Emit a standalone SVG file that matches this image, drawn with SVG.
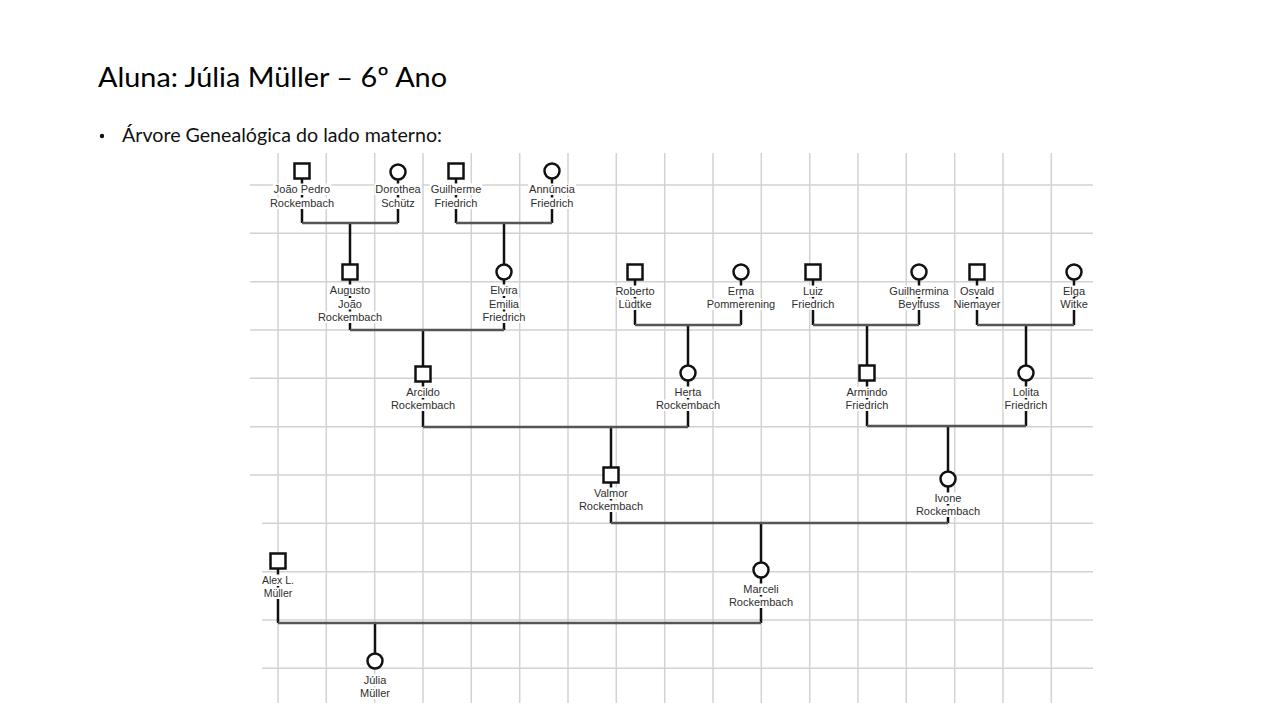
<svg xmlns="http://www.w3.org/2000/svg" width="1280" height="720" viewBox="0 0 1280 720">
<defs>
<style>
.grid line{stroke:#d2d2d2;stroke-width:1.5}
.v{stroke:#111;stroke-width:2.5;fill:none}
.h{stroke:#555;stroke-width:2.5;fill:none}
.sq,.ci{fill:#fff;stroke:#111;stroke-width:2.5}
.bg{fill:#fff;height:11.5px}
.lb{font-family:"Liberation Sans",Arial,sans-serif;font-size:11px;fill:#2e2e2e;text-anchor:middle}
.sm{font-size:10.5px}
.title{font-family:Lato,"Open Sans",sans-serif;font-size:27px;fill:#000}
.sub{font-family:Lato,"Open Sans",sans-serif;font-size:18.5px;fill:#111}
</style>
</defs>
<rect width="1280" height="720" fill="#fff"/>
<text class="title" x="98" y="87" textLength="349" lengthAdjust="spacingAndGlyphs">Aluna: Júlia Müller – 6º Ano</text>
<circle cx="102" cy="136" r="2.2" fill="#111"/>
<text class="sub" x="122" y="142" textLength="320" lengthAdjust="spacingAndGlyphs">Árvore Genealógica do lado materno:</text>
<g class="grid">
<line x1="278" y1="153" x2="278" y2="703"/><line x1="326.3" y1="153" x2="326.3" y2="703"/><line x1="374.7" y1="153" x2="374.7" y2="703"/><line x1="423" y1="153" x2="423" y2="703"/><line x1="471.3" y1="153" x2="471.3" y2="703"/><line x1="519.7" y1="153" x2="519.7" y2="703"/><line x1="568" y1="153" x2="568" y2="703"/><line x1="616.3" y1="153" x2="616.3" y2="703"/><line x1="664.7" y1="153" x2="664.7" y2="703"/><line x1="713" y1="153" x2="713" y2="703"/><line x1="761.3" y1="153" x2="761.3" y2="703"/><line x1="809.7" y1="153" x2="809.7" y2="703"/><line x1="858" y1="153" x2="858" y2="703"/><line x1="906.3" y1="153" x2="906.3" y2="703"/><line x1="954.7" y1="153" x2="954.7" y2="703"/><line x1="1003" y1="153" x2="1003" y2="703"/><line x1="1051.3" y1="153" x2="1051.3" y2="703"/>
<line x1="250" y1="185" x2="1093" y2="185"/><line x1="250" y1="233.3" x2="1093" y2="233.3"/><line x1="250" y1="281.7" x2="1093" y2="281.7"/><line x1="250" y1="330" x2="1093" y2="330"/><line x1="250" y1="378.3" x2="1093" y2="378.3"/><line x1="250" y1="426.7" x2="1093" y2="426.7"/><line x1="250" y1="475" x2="1093" y2="475"/><line x1="262" y1="523.3" x2="1093" y2="523.3"/><line x1="262" y1="571.7" x2="1093" y2="571.7"/><line x1="262" y1="620" x2="1093" y2="620"/><line x1="262" y1="668.3" x2="1093" y2="668.3"/>
</g>
<g id="connectors">
<path class="v" d="M302 179V223M398 180V223M456 179V223M552 179V223M350 223V264.5M504 223V264.5"/>
<path class="h" d="M302 223H398M456 223H552"/>
<path class="v" d="M350 280V330M504 280V330M423 330V366.5"/>
<path class="h" d="M350 330H504"/>
<path class="v" d="M635 280V325M741 280V325M688 325V365.5M813 280V325M919 280V325M867 325V365.5M977 280V325M1074 280V325M1026 325V365.5"/>
<path class="h" d="M635 325H741M813 325H919M977 325H1074"/>
<path class="v" d="M423 382V427M688 381V427M611 427V467.5M867 381V426M1026 381V426M948 426V471.5"/>
<path class="h" d="M423 427H688M867 426H1026"/>
<path class="v" d="M611 483V523M948 487V523M761 523V562.5"/>
<path class="h" d="M611 523H948"/>
<path class="v" d="M278 569V623M761 578V623M375 623V653.5"/>
<path class="h" d="M278 623H761"/>
</g>
<g id="joao-pedro"><rect class="sq" x="294.5" y="163.5" width="15" height="15"/><rect class="bg" x="272.9" y="183.5" width="58.3" height="11.5"/><rect class="bg" x="268.9" y="197.5" width="66.2" height="11.5"/><text class="lb" x="302" y="193">João Pedro</text><text class="lb" x="302" y="207">Rockembach</text></g>
<g id="dorothea"><circle class="ci" cx="398" cy="172" r="7.5"/><rect class="bg" x="374.4" y="183.5" width="47.2" height="11.5"/><rect class="bg" x="380.2" y="197.5" width="35.6" height="11.5"/><text class="lb" x="398" y="193">Dorothea</text><text class="lb" x="398" y="207">Schütz</text></g>
<g id="guilherme"><rect class="sq" x="448.5" y="163.5" width="15" height="15"/><rect class="bg" x="429.7" y="183.5" width="52.7" height="11.5"/><rect class="bg" x="433.6" y="197.5" width="44.8" height="11.5"/><text class="lb" x="456" y="193">Guilherme</text><text class="lb" x="456" y="207">Friedrich</text></g>
<g id="annuncia"><circle class="ci" cx="552" cy="171" r="7.5"/><rect class="bg" x="528.1" y="183.5" width="47.9" height="11.5"/><rect class="bg" x="529.6" y="197.5" width="44.8" height="11.5"/><text class="lb" x="552" y="193">Annúncia</text><text class="lb" x="552" y="207">Friedrich</text></g>
<g id="augusto"><rect class="sq" x="342.5" y="264.5" width="15" height="15"/><rect class="bg" x="328.8" y="284.5" width="42.4" height="11.5"/><rect class="bg" x="337.1" y="298" width="25.8" height="11.5"/><rect class="bg" x="316.9" y="311.5" width="66.2" height="11.5"/><text class="lb" x="350" y="294">Augusto</text><text class="lb" x="350" y="307.5">João</text><text class="lb" x="350" y="321">Rockembach</text></g>
<g id="elvira"><circle class="ci" cx="504" cy="272" r="7.5"/><rect class="bg" x="489.3" y="284.5" width="29.5" height="11.5"/><rect class="bg" x="488.1" y="298" width="31.9" height="11.5"/><rect class="bg" x="481.6" y="311.5" width="44.8" height="11.5"/><text class="lb" x="504" y="294">Elvira</text><text class="lb" x="504" y="307.5">Emilia</text><text class="lb" x="504" y="321">Friedrich</text></g>
<g id="roberto"><rect class="sq" x="627.5" y="264.5" width="15" height="15"/><rect class="bg" x="614.5" y="285.5" width="41.1" height="11.5"/><rect class="bg" x="617.5" y="298.5" width="35" height="11.5"/><text class="lb" x="635" y="295">Roberto</text><text class="lb" x="635" y="308">Lüdtke</text></g>
<g id="erma"><circle class="ci" cx="741" cy="272" r="7.5"/><rect class="bg" x="726.9" y="285.5" width="28.3" height="11.5"/><rect class="bg" x="705.8" y="298.5" width="70.5" height="11.5"/><text class="lb" x="741" y="295">Erma</text><text class="lb" x="741" y="308">Pommerening</text></g>
<g id="luiz"><rect class="sq" x="805.5" y="264.5" width="15" height="15"/><rect class="bg" x="801.9" y="285.5" width="22.2" height="11.5"/><rect class="bg" x="790.6" y="298.5" width="44.8" height="11.5"/><text class="lb" x="813" y="295">Luiz</text><text class="lb" x="813" y="308">Friedrich</text></g>
<g id="guilhermina"><circle class="ci" cx="919" cy="272" r="7.5"/><rect class="bg" x="888.4" y="285.5" width="61.3" height="11.5"/><rect class="bg" x="897.2" y="298.5" width="43.6" height="11.5"/><text class="lb" x="919" y="295">Guilhermina</text><text class="lb" x="919" y="308">Beylfuss</text></g>
<g id="osvald"><rect class="sq" x="969.5" y="264.5" width="15" height="15"/><rect class="bg" x="958.9" y="285.5" width="36.2" height="11.5"/><rect class="bg" x="952.5" y="298.5" width="49.1" height="11.5"/><text class="lb" x="977" y="295">Osvald</text><text class="lb" x="977" y="308">Niemayer</text></g>
<g id="elga"><circle class="ci" cx="1074" cy="272" r="7.5"/><rect class="bg" x="1062" y="285.5" width="24" height="11.5"/><rect class="bg" x="1059.3" y="298.5" width="29.5" height="11.5"/><text class="lb" x="1074" y="295">Elga</text><text class="lb" x="1074" y="308">Witke</text></g>
<g id="arcildo"><rect class="sq" x="415.5" y="366.5" width="15" height="15"/><rect class="bg" x="405.2" y="386.5" width="35.6" height="11.5"/><rect class="bg" x="389.9" y="399.5" width="66.2" height="11.5"/><text class="lb" x="423" y="396">Arcildo</text><text class="lb" x="423" y="409">Rockembach</text></g>
<g id="herta"><circle class="ci" cx="688" cy="373" r="7.5"/><rect class="bg" x="673.6" y="386.5" width="28.9" height="11.5"/><rect class="bg" x="654.9" y="399.5" width="66.2" height="11.5"/><text class="lb" x="688" y="396">Herta</text><text class="lb" x="688" y="409">Rockembach</text></g>
<g id="armindo"><rect class="sq" x="859.5" y="365.5" width="15" height="15"/><rect class="bg" x="845.5" y="386.5" width="43" height="11.5"/><rect class="bg" x="844.6" y="399.5" width="44.8" height="11.5"/><text class="lb" x="867" y="396">Armindo</text><text class="lb" x="867" y="409">Friedrich</text></g>
<g id="lolita"><circle class="ci" cx="1026" cy="373" r="7.5"/><rect class="bg" x="1011.9" y="386.5" width="28.3" height="11.5"/><rect class="bg" x="1003.6" y="399.5" width="44.8" height="11.5"/><text class="lb" x="1026" y="396">Lolita</text><text class="lb" x="1026" y="409">Friedrich</text></g>
<g id="valmor"><rect class="sq" x="603.5" y="467.5" width="15" height="15"/><rect class="bg" x="592.6" y="487.5" width="36.8" height="11.5"/><rect class="bg" x="577.9" y="500.5" width="66.2" height="11.5"/><text class="lb" x="611" y="497">Valmor</text><text class="lb" x="611" y="510">Rockembach</text></g>
<g id="ivone"><circle class="ci" cx="948" cy="479" r="7.5"/><rect class="bg" x="933.6" y="492.5" width="28.9" height="11.5"/><rect class="bg" x="914.9" y="505.5" width="66.2" height="11.5"/><text class="lb" x="948" y="502">Ivone</text><text class="lb" x="948" y="515">Rockembach</text></g>
<g id="alex"><rect class="sq" x="270.5" y="553.5" width="15" height="15"/><rect class="bg" x="261" y="574.5" width="34.1" height="11.5"/><rect class="bg" x="262.7" y="587.5" width="30.6" height="11.5"/><text class="lb sm" x="278" y="584">Alex L.</text><text class="lb sm" x="278" y="597">Müller</text></g>
<g id="marceli"><circle class="ci" cx="761" cy="570" r="7.5"/><rect class="bg" x="742.3" y="583.5" width="37.4" height="11.5"/><rect class="bg" x="727.9" y="596.5" width="66.2" height="11.5"/><text class="lb" x="761" y="593">Marceli</text><text class="lb" x="761" y="606">Rockembach</text></g>
<g id="julia"><circle class="ci" cx="375" cy="661" r="7.5"/><rect class="bg" x="362.7" y="674.5" width="24.6" height="11.5"/><rect class="bg" x="359.1" y="687.5" width="31.9" height="11.5"/><text class="lb" x="375" y="684">Júlia</text><text class="lb" x="375" y="697">Müller</text></g>
</svg>
